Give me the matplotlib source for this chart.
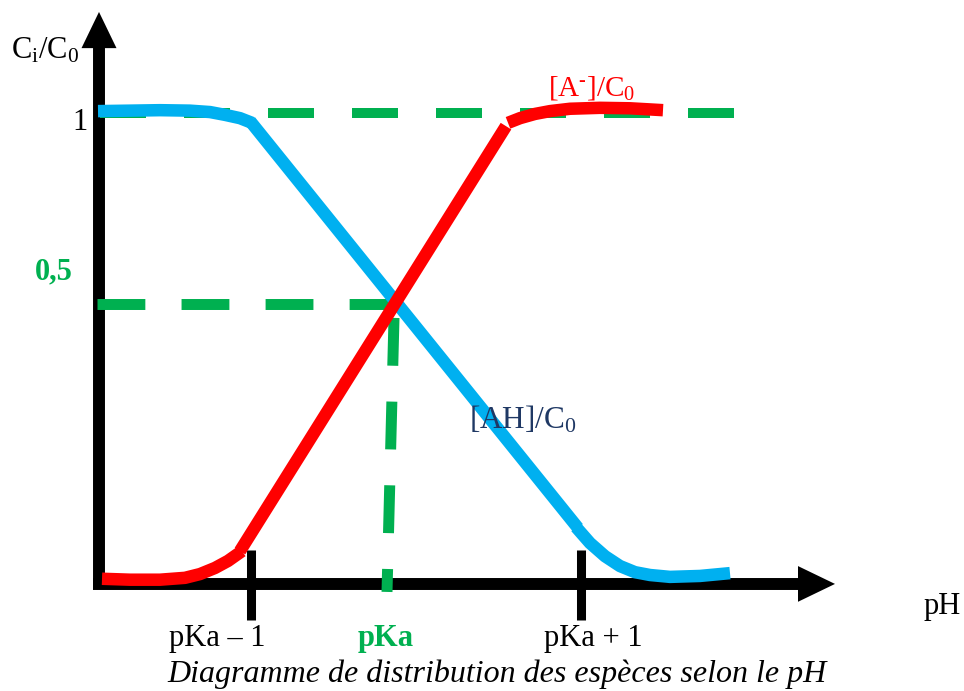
import matplotlib
matplotlib.use("Agg")
import matplotlib.pyplot as plt

plt.rcParams['font.family'] = ['Liberation Serif', 'DejaVu Serif']
plt.rcParams['mathtext.fontset'] = 'custom'
plt.rcParams['mathtext.rm'] = 'Liberation Serif'
plt.rcParams['mathtext.it'] = 'Liberation Serif:italic'

# curves (x: horizontal units from the vertical axis, y: C/C0)
# each curve is drawn in three hand-made pieces: flat bend, straight part, flat bend
ah_bend1_x = [-0.01, 0.31, 0.61, 0.91, 1.11, 1.26, 1.41, 1.53]
ah_bend1_y = [1.004, 1.005, 1.006, 1.005, 1.002, 0.996, 0.989, 0.979]
ah_line_x = [1.51, 4.79]
ah_line_y = [0.983, 0.117]
ah_bend2_x = [4.77, 4.91, 5.06, 5.21, 5.36, 5.51, 5.71, 6.01, 6.31]
ah_bend2_y = [0.119, 0.085, 0.057, 0.036, 0.023, 0.017, 0.013, 0.015, 0.021]

a_bend1_x = [0.03, 0.31, 0.61, 0.86, 1.01, 1.16, 1.29, 1.43]
a_bend1_y = [0.009, 0.007, 0.007, 0.011, 0.019, 0.032, 0.047, 0.068]
a_line_x = [1.41, 4.07]
a_line_y = [0.068, 0.972]
a_bend2_x = [4.09, 4.21, 4.36, 4.51, 4.71, 5.01, 5.31, 5.64]
a_bend2_y = [0.979, 0.989, 0.998, 1.004, 1.009, 1.011, 1.010, 1.006]

# reference levels and pKa position
level_one = 1.0
level_half = 0.594
pka_top = (2.95, 0.564)
pka_bottom = (2.88, -0.019)

tick_pos = [1.52, 2.87, 4.82]
tick_labels = ['pKa – 1', 'pKa', 'pKa + 1']

blue = '#00B0F0'
red = '#FF0000'
green = '#00B050'
navy = '#1F3864'

fig = plt.figure(figsize=(9.64, 6.91), dpi=100)
ax = fig.add_axes([0, 0, 1, 1])
ax.set_xlim(-0.99, 8.65)
ax.set_ylim(-0.2298, 1.2404)
ax.axis('off')

# axes with arrow heads
ax.plot([0, 0], [-0.004, 1.14], color='k', lw=8.6, solid_capstyle='butt')
ax.fill([-0.175, 0.175, 0], [1.138, 1.138, 1.215], color='k', lw=0)
ax.plot([-0.06, 7.0], [-0.002, -0.002], color='k', lw=8.6, solid_capstyle='butt')
ax.fill([6.99, 6.99, 7.36], [-0.04, 0.036, -0.002], color='k', lw=0)

# ticks at pKa - 1 and pKa + 1
for xt in (tick_pos[0], tick_pos[2]):
    ax.plot([xt, xt], [0.070, -0.079], color='k', lw=6.5, solid_capstyle='butt')

# green dashed guides
ax.plot([0.01, 6.36], [level_one, level_one], color=green, lw=7.2,
        dashes=(4.6, 3.8), solid_capstyle='butt', dash_capstyle='butt')
ax.plot([-0.02, 2.98], [level_half, level_half], color=green, lw=7.9,
        dashes=(4.36, 3.3), dash_capstyle='butt')
ax.plot([pka_top[0], pka_bottom[0]], [pka_top[1], pka_bottom[1]], color=green, lw=7.9,
        dashes=(4.36, 3.27), dash_capstyle='butt')

# curves
for xs, ys in ((ah_bend1_x, ah_bend1_y), (ah_line_x, ah_line_y), (ah_bend2_x, ah_bend2_y)):
    ax.plot(xs, ys, color=blue, lw=9, solid_capstyle='butt', solid_joinstyle='round')
for xs, ys in ((a_bend1_x, a_bend1_y), (a_line_x, a_line_y), (a_bend2_x, a_bend2_y)):
    ax.plot(xs, ys, color=red, lw=9, solid_capstyle='butt', solid_joinstyle='round')

# labels
ax.text(-0.54, 1.132, r'$\mathrm{C_i/C_0}$', fontsize=22, ha='center', va='center')
ax.text(-0.19, 0.979, '1', fontsize=22, ha='center', va='center')
ax.text(-0.45, 0.662, '0,5', fontsize=22, ha='center', va='center', color=green, weight='bold')
ax.text(4.93, 1.053, r'$\mathrm{[A^{\text{-}}]/C_0}$', fontsize=21, ha='center', va='center',
        color=red)
ax.text(4.24, 0.347, r'$\mathrm{[AH]/C_0}$', fontsize=22.5, ha='center', va='center', color=navy)
ax.text(8.43, -0.049, 'pH', fontsize=22, ha='center', va='center')

for xt, lab in zip(tick_pos, tick_labels):
    if lab == 'pKa':
        ax.text(xt, -0.119, lab, fontsize=22, ha='center', va='center', color=green, weight='bold')
    else:
        ax.text(xt - 0.34 if '–' in lab else xt + 0.12, -0.119, lab, fontsize=22,
                ha='center', va='center')

ax.text(3.98, -0.194, 'Diagramme de distribution des espèces selon le pH', fontsize=23,
        style='italic', ha='center', va='center')

fig.savefig('out.png', dpi=100)
